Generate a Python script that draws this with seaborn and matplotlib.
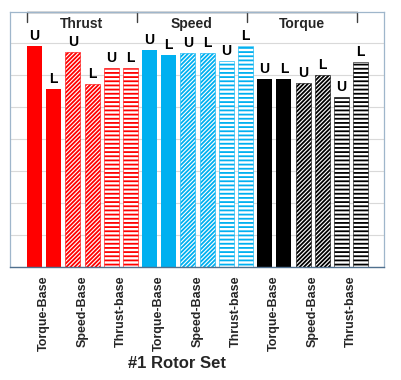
import matplotlib
matplotlib.use("Agg")
import matplotlib.pyplot as plt
import seaborn as sns
import pandas as pd
import numpy as np

# ---- data ----
groups = ["Thrust", "Speed", "Torque"]
bases = ["Torque-Base", "Speed-Base", "Thrust-base"]
bounds = ["U", "L"]
thrust_vals = [6.90, 5.56, 6.72, 5.72, 6.22, 6.22]
speed_vals = [6.78, 6.62, 6.69, 6.69, 6.45, 6.92]
torque_vals = [5.88, 5.88, 5.75, 6.00, 5.31, 6.41]
group_colors = ["#FF0000", "#00B0F0", "#000000"]
tick_labels = bases * 3

sns.set_theme(style="white")
plt.rcParams['font.family'] = ['Liberation Sans', 'DejaVu Sans']
plt.rcParams['hatch.linewidth'] = 1.3

values = thrust_vals + speed_vals + torque_vals
n = len(values)
df = pd.DataFrame({
    "idx": [str(i) for i in range(n)],
    "value": values,
    "bound": bounds * (n // 2),
})
palette = {str(i): group_colors[i // 6] for i in range(n)}

fig = plt.figure(figsize=(4.02, 3.80), dpi=100)
ax = fig.add_axes([10 / 402, (380 - 267) / 380, 374 / 402, 255 / 380])

sns.barplot(data=df, x="idx", y="value", hue="idx", palette=palette,
            legend=False, width=0.78, saturation=1, ax=ax, errorbar=None)

patches = [c.patches[0] for c in ax.containers]
for i, p in enumerate(patches):
    col = group_colors[i // 6]
    kind = (i % 6) // 2
    if kind == 0:
        p.set_facecolor(col)
        p.set_edgecolor(col)
        p.set_linewidth(0)
    elif kind == 1:
        p.set_facecolor("white")
        p.set_edgecolor(col)
        p.set_hatch("////////")
        p.set_linewidth(0.4)
    else:
        p.set_facecolor("white")
        p.set_edgecolor(col)
        p.set_hatch("----")
        p.set_linewidth(0.4)
    # U / L labels
    ax.annotate(df["bound"][i], (p.get_x() + p.get_width() / 2, p.get_height()),
                xytext=(0, 2), textcoords="offset points", ha="center", va="bottom",
                fontsize=10, fontweight="bold", color="black")

ax.set_xlim(-1.277, 18.22)
ax.set_ylim(0, 7.97)
ax.set_yticks(range(1, 8))
ax.set_yticklabels([])
ax.yaxis.grid(True, color="#d9d9d9", linewidth=0.8)
ax.set_axisbelow(True)
ax.tick_params(axis="both", length=0)

ax.set_xticks([2 * k + 0.5 for k in range(9)])
ax.set_xticklabels(tick_labels, rotation=90, fontsize=9, fontweight="bold",
                   va="top", ha="center")
ax.tick_params(axis="x", pad=6)
ax.set_xlabel("")
ax.set_ylabel("")

for s in ["left", "right", "top"]:
    ax.spines[s].set_color("#9fb6cb")
    ax.spines[s].set_linewidth(0.9)
ax.spines["bottom"].set_color("#50708e")
ax.spines["bottom"].set_linewidth(1.0)

# header with group labels
div = [-0.39, 5.34, 11.07, 16.81]
ytop = 7.97
ax.plot([div[0], div[-1]], [ytop, ytop], color="#404040", lw=1.0, clip_on=False,
        solid_capstyle="butt")
for d in div:
    ax.plot([d, d], [ytop, ytop - 0.3], color="#404040", lw=1.0, clip_on=False)
for k, g in enumerate(groups):
    ax.text((div[k] + div[k + 1]) / 2, 7.6, g, ha="center", va="center",
            fontsize=10, fontweight="bold")

fig.text(177 / 402, 1 - 363 / 380, "#1 Rotor Set", ha="center", va="center",
         fontsize=12, fontweight="bold")

fig.savefig("out.png", dpi=100)
